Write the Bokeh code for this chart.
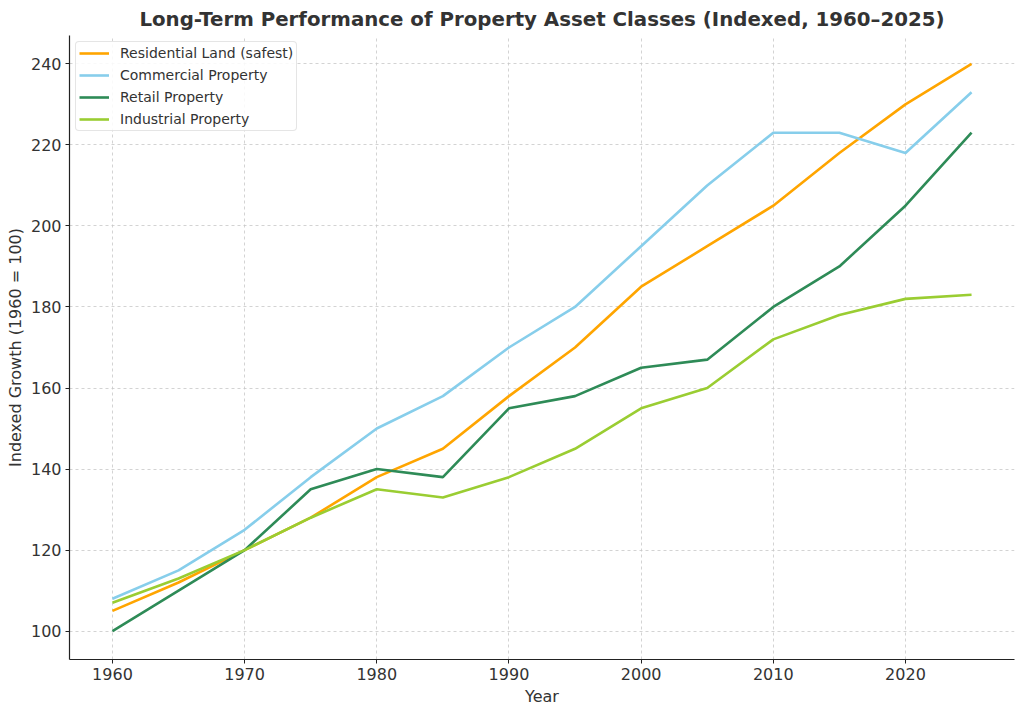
from bokeh.plotting import figure
from bokeh.models import ColumnDataSource, Legend, LegendItem, FixedTicker, Range1d
from bokeh.embed import file_html
from bokeh.resources import INLINE

# Index values by year (1960 = 100 baseline)
years = [1960, 1965, 1970, 1975, 1980, 1985, 1990, 1995, 2000, 2005, 2010, 2015, 2020, 2025]
residential = [105, 112, 120, 128, 138, 145, 158, 170, 185, 195, 205, 218, 230, 240]
commercial = [108, 115, 125, 138, 150, 158, 170, 180, 195, 210, 223, 223, 218, 233]
retail = [100, 110, 120, 135, 140, 138, 155, 158, 165, 167, 180, 190, 205, 223]
industrial = [107, 113, 120, 128, 135, 133, 138, 145, 155, 160, 172, 178, 182, 183]

series_names = ["Residential Land (safest)", "Commercial Property", "Retail Property", "Industrial Property"]
series_values = [residential, commercial, retail, industrial]
series_colors = ["#FFA500", "#87CEEB", "#2E8B57", "#9ACD32"]

x_ticks = [1960, 1970, 1980, 1990, 2000, 2010, 2020]
y_ticks = [100, 120, 140, 160, 180, 200, 220, 240]

FONT = "DejaVu Sans"
TEXT = "#333333"

p = figure(
    width=1024, height=713,
    output_backend="svg", toolbar_location=None,
    x_range=Range1d(1956.75, 2028.25), y_range=Range1d(93, 247),
    min_border_left=69, min_border_right=10, min_border_top=34, min_border_bottom=54,
    title="Long-Term Performance of Property Asset Classes (Indexed, 1960\u20132025)",
)
p.background_fill_color = "white"
p.border_fill_color = "white"
p.outline_line_color = None

p.title.align = "center"
p.title.text_font = FONT
p.title.text_font_style = "bold"
p.title.text_font_size = "19.8px"
p.title.text_color = TEXT
p.title.offset = 0

src = ColumnDataSource(dict(year=years, res=residential, com=commercial, ret=retail, ind=industrial))
items = []
for name, col, color in zip(series_names, ["res", "com", "ret", "ind"], series_colors):
    r = p.line("year", col, source=src, line_color=color, line_width=2.6)
    items.append(LegendItem(label=name, renderers=[r]))

legend = Legend(items=items, location="top_left")
legend.margin = 6
legend.padding = 3
legend.spacing = 6
legend.label_height = 16
legend.glyph_width = 30
legend.glyph_height = 16
legend.label_standoff = 11
legend.label_text_font = FONT
legend.label_text_font_size = "14px"
legend.label_text_color = TEXT
legend.border_line_color = "#cccccc"
legend.border_line_width = 1
legend.border_radius = 4
legend.background_fill_alpha = 0.85
p.add_layout(legend)

for ax in (p.xaxis, p.yaxis):
    ax.axis_line_color = "#222222"
    ax.axis_line_width = 1.2
    ax.major_tick_line_color = "#222222"
    ax.major_tick_out = 4
    ax.major_tick_in = 0
    ax.minor_tick_line_color = None
    ax.major_label_text_font = FONT
    ax.major_label_text_font_size = "16px"
    ax.major_label_text_color = TEXT
    ax.axis_label_text_font = FONT
    ax.axis_label_text_font_size = "16px"
    ax.axis_label_text_font_style = "normal"
    ax.axis_label_text_color = TEXT

p.xaxis.ticker = FixedTicker(ticks=x_ticks)
p.yaxis.ticker = FixedTicker(ticks=y_ticks)
p.xaxis.axis_label = "Year"
p.yaxis.axis_label = "Indexed Growth (1960 = 100)"
p.xaxis.major_label_standoff = 4
p.yaxis.major_label_standoff = 4
p.xaxis.axis_label_standoff = 4
p.yaxis.axis_label_standoff = 3

for g in (p.xgrid, p.ygrid):
    g.grid_line_color = "#c8c8c8"
    g.grid_line_dash = "3 3"
    g.grid_line_width = 0.8

open("out.html", "w").write(file_html(p, INLINE))
